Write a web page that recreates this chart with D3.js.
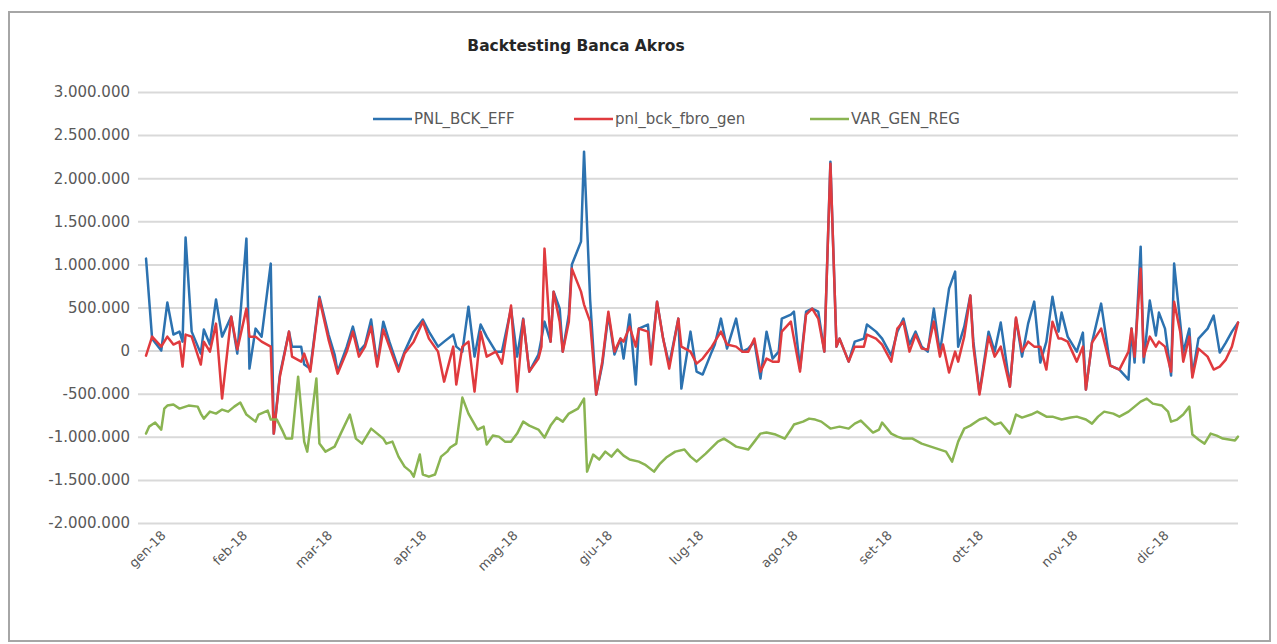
<!DOCTYPE html>
<html>
<head>
<meta charset="utf-8">
<script src="https://cdn.jsdelivr.net/npm/d3@7"></script>
<style>
body { margin: 0; background: #fff; }
svg { display: block; font-family: "DejaVu Sans", sans-serif; }
</style>
</head>
<body>
<svg id="chart"></svg>
<script>
// days since 1 Jan 2018 (1 = 2 Jan), values in thousand EUR
const pnlDays = [2,4,7,9,11,13,14,15,17,20, 21,23,25,27,30,32,35,36,38,40,
  43,44,46,49,50,53,54,56,59,62, 64,65,68,70,72,74,76,78,80,82,
  85,87,90,93,95,98,100,103,104,106, 108,110,112,114,117,119,122,124,126,128,
  131,132,133,135,136,138,139,141,142,145, 146,148,150,152,154,156,158,159,161,163,
  164,167,168,170,172,174,177,178,181,183, 185,188,189,191,193,196,198,200,202,204,
  206,208,210,211,214,215,217,219,221,223, 225,227,229,230,233,235,238,239,242,244,
  247,249,251,253,255,257,259,261,263,264, 266,268,269,271,273,274,276,279,281,283,
  286,288,290,292,294,296,298,300,302,303, 305,308,310,311,313,316,319,322,325,326,
  327,329,330,332,334,335,337,339,340,342, 343,345,346,348,351,353,355,357,359,361];

const pnlEff = [1067,139,0,557,186,220,104,1311,220,-35, 244,70,592,162,394,-35,1299,-209,255,162,
  1009,-963,-278,220,46,46,-162,-209,626,186, -46,-244,46,278,-12,70,360,-162,336,104,
  -209,-12,220,360,220,46,104,186,46,-12, 510,-70,302,162,-12,-12,487,-70,371,-244,
  -46,139,336,104,684,487,-12,418,998,1264, 2308,592,-510,-162,418,-46,139,-93,418,-394,
  255,302,-93,568,139,-162,371,-441,220,-244, -278,-12,70,371,23,371,-12,23,104,-325,
  220,-93,-12,371,418,452,-209,452,487,452, -12,2192,46,139,-128,104,139,302,220,139,
  -58,220,371,70,220,46,-12,487,-23,220, 719,916,46,278,638,104,-487,220,-12,325,
  -418,371,-70,313,568,-139,104,626,220,441, 162,-12,209,-452,93,545,-174,-220,-336,255,
  -139,1206,-139,580,174,441,255,-290,1009,325, -23,255,-290,139,255,406,-23,93,220,325];

const pnlGen = [-58,162,46,162,70,104,-186,186,162,-162, 104,-12,313,-557,394,12,487,162,162,104,
  46,-963,-302,220,-70,-128,-35,-244,603,128, -128,-267,-12,220,-70,46,278,-186,244,46,
  -244,-35,104,336,139,-12,-360,46,-394,46, 104,-476,220,-70,-12,-151,522,-476,360,-244,
  -93,46,1183,104,684,336,-12,336,951,684, 534,336,-510,-128,452,-12,139,104,278,46,
  255,220,-162,568,139,-209,371,46,-12,-151, -93,46,104,220,70,46,-12,-12,139,-244,
  -93,-128,-128,220,336,139,-244,418,487,371, -12,2169,46,139,-128,46,46,186,139,70,
  -128,255,336,-12,186,23,12,336,-70,70, -255,-12,-128,162,638,46,-510,162,-70,46,
  -418,383,-12,104,46,46,-220,336,139,139, 104,-128,46,-452,93,255,-174,-220,-12,255,
  -70,951,-70,162,46,104,46,-244,568,220, -128,162,-313,23,-70,-220,-186,-104,46,325];

const varDays = [2,3,5,7,8,9,11,13,14,16, 19,20,21,23,25,27,29,31,33,35,
  38,39,42,43,45,47,48,50,52,54, 55,58,59,61,64,66,69,71,73,76,
  78,80,81,83,85,87,89,90,92,93, 95,97,99,101,102,104,106,108,111,113,
  114,116,118,120,122,124,126,128,131,133, 135,137,139,141,144,146,147,149,151,153,
  155,157,159,161,164,166,169,171,173,176, 179,181,183,186,188,190,192,194,196,200,
  202,204,206,209,212,214,215,218,220,222, 224,227,230,233,235,237,239,241,243,244,
  247,249,251,254,257,259,262,265,267,269, 271,273,276,278,281,283,286,288,290,293,
  295,298,300,303,306,308,311,313,315,317, 320,322,325,327,329,331,333,336,338,339,
  341,343,345,346,348,350,352,354,356,358, 360,361];

const varGen = [-963,-882,-835,-916,-673,-638,-626,-673,-661,-638, -650,-731,-789,-708,-731,-684,-708,-650,-603,-742,
  -824,-742,-696,-800,-800,-940,-1021,-1021,-302,-1056, -1172,-325,-1079,-1172,-1114,-963,-742,-1021,-1079,-905,
  -963,-1021,-1079,-1056,-1230,-1346,-1404,-1462,-1206,-1438, -1462,-1438,-1230,-1172,-1125,-1079,-545,-731,-916,-882,
  -1090,-986,-998,-1056,-1056,-963,-824,-870,-916,-1009, -870,-777,-824,-731,-673,-557,-1404,-1206,-1264,-1172,
  -1230,-1148,-1218,-1264,-1288,-1322,-1404,-1311,-1241,-1172, -1148,-1230,-1288,-1195,-1125,-1056,-1021,-1067,-1114,-1148,
  -1056,-963,-951,-974,-1021,-916,-858,-824,-789,-800, -824,-905,-882,-905,-847,-812,-882,-951,-916,-835,
  -963,-998,-1021,-1021,-1079,-1102,-1137,-1172,-1288,-1056, -905,-870,-800,-777,-858,-835,-963,-742,-777,-742,
  -708,-766,-766,-800,-777,-766,-800,-847,-766,-708, -731,-766,-708,-650,-592,-557,-615,-638,-708,-824,
  -800,-742,-650,-974,-1032,-1079,-963,-986,-1021,-1032, -1044,-998];

const seriesNames = ["PNL_BCK_EFF", "pnl_bck_fbro_gen", "VAR_GEN_REG"];
const monthLabels = ["gen-18","feb-18","mar-18","apr-18","mag-18","giu-18",
  "lug-18","ago-18","set-18","ott-18","nov-18","dic-18"];
const yTicks = [-2000000,-1500000,-1000000,-500000,0,500000,1000000,1500000,2000000,2500000,3000000];
const title = "Backtesting Banca Akros";

const width = 1277;
const height = 644;
const plotLeft = 143, plotRight = 1238, plotTop = 92, plotBottom = 523;
const colors = ["#2c72b0", "#e03a3e", "#8ab452"];

const toDate = d => new Date(2018, 0, 1 + d);

const svg = d3.select("#chart")
    .attr("width", width)
    .attr("height", height);

svg.append("rect")
    .attr("x", 9).attr("y", 12)
    .attr("width", 1261).attr("height", 629)
    .attr("fill", "#fff")
    .attr("stroke", "#a6a6a6")
    .attr("stroke-width", 2);

const x = d3.scaleTime()
    .domain([toDate(1), toDate(361)])
    .range([plotLeft, plotRight]);

const y = d3.scaleLinear()
    .domain([-2000000, 3000000])
    .range([plotBottom, plotTop]);

const it = d3.formatLocale({decimal: ",", thousands: ".", grouping: [3], currency: ["€", ""], minus: "-"});
const fmt = it.format(",d");

// gridlines and value labels
const yAxis = svg.append("g")
    .attr("transform", `translate(${plotLeft},0)`)
    .call(d3.axisLeft(y).tickValues(yTicks).tickFormat(fmt).tickSize(-(plotRight - plotLeft)).tickPadding(13));
yAxis.select(".domain").remove();
yAxis.selectAll(".tick line")
    .attr("x1", -5)
    .attr("stroke", "#d9d9d9")
    .attr("stroke-width", 2);
yAxis.selectAll(".tick text")
    .attr("fill", "#595959")
    .style("font-size", "15px")
    .style("font-family", "DejaVu Sans");

// month labels
const monthTicks = monthLabels.map((m, i) => new Date(2018, i, 2));
const xAxis = svg.append("g")
    .attr("transform", `translate(0,${plotBottom})`)
    .call(d3.axisBottom(x).tickValues(monthTicks).tickFormat((d, i) => monthLabels[i]).tickSize(0));
xAxis.select(".domain").remove();
xAxis.selectAll(".tick text")
    .attr("x", 0).attr("y", 0).attr("dy", "0.35em")
    .attr("text-anchor", "end")
    .attr("transform", (d, i) => i === 0 ? "translate(20,10) rotate(-45)" : "translate(7,10) rotate(-45)")
    .attr("fill", "#595959")
    .style("font-size", "13px")
    .style("font-family", "DejaVu Sans");

// series
const line = d3.line()
    .x(d => x(toDate(d[0])))
    .y(d => y(d[1] * 1000));

const series = [
    d3.zip(pnlDays, pnlEff),
    d3.zip(pnlDays, pnlGen),
    d3.zip(varDays, varGen)
];

svg.append("g")
    .selectAll("path")
    .data(series)
    .join("path")
        .attr("d", line)
        .attr("fill", "none")
        .attr("stroke", (d, i) => colors[i])
        .attr("stroke-width", 2.5)
        .attr("stroke-linejoin", "round")
        .attr("stroke-linecap", "round");

// title
svg.append("text")
    .attr("x", 576).attr("y", 51)
    .attr("text-anchor", "middle")
    .attr("fill", "#262626")
    .style("font-size", "15.5px")
    .style("font-weight", "bold")
    .text(title);

// legend
const legendX = [373, 574, 810];
const legend = svg.append("g")
    .selectAll("g")
    .data(seriesNames)
    .join("g")
        .attr("transform", (d, i) => `translate(${legendX[i]},119)`);
legend.append("line")
    .attr("x1", 0).attr("x2", 39)
    .attr("stroke", (d, i) => colors[i])
    .attr("stroke-width", 2.5);
legend.append("text")
    .attr("x", 41).attr("dy", "0.35em")
    .attr("fill", "#595959")
    .style("font-size", "15px")
    .text(d => d);
</script>
</body>
</html>
